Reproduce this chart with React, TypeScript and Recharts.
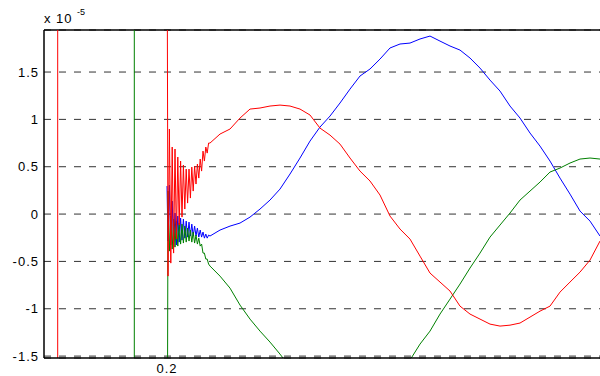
import React from 'react';
import { LineChart, Line, XAxis, YAxis, CartesianGrid, ReferenceLine } from 'recharts';

// time samples (s): fast start-up burst, then the slow part
const transientT = [
  0.2, 0.2001, 0.20024, 0.20038, 0.20052, 0.20066, 0.2008, 0.20094, 0.20108, 0.20122, 0.20136,
  0.2015, 0.20164, 0.20178, 0.20192, 0.20206, 0.2022, 0.20234, 0.20248, 0.20262, 0.20276,
  0.2029, 0.20304, 0.20318, 0.20332, 0.20346, 0.2036, 0.20374, 0.20388, 0.20402, 0.20416,
];
const smoothT = [
  0.2043, 0.2053, 0.2063, 0.2073, 0.2083, 0.2093, 0.2103, 0.2113, 0.2123, 0.2133,
  0.2143, 0.2153, 0.2163, 0.2173, 0.2183, 0.2193, 0.2203, 0.2213, 0.2223, 0.2233,
  0.2243, 0.2253, 0.2263, 0.2273, 0.2283, 0.2293, 0.2303, 0.2313, 0.2323, 0.2333,
  0.2343, 0.2353, 0.2363, 0.2373, 0.2383, 0.2393, 0.2403, 0.2413, 0.2423, 0.2433,
];

// values in units of 1e-5
const blueTransient = [
  0.296, -0.285, 0.306, -0.327, 0.137, -0.349, 0.011, -0.327, -0.021, -0.296, -0.042,
  -0.275, -0.053, -0.254, -0.074, -0.243, -0.085, -0.232, -0.106, -0.232, -0.127,
  -0.232, -0.148, -0.243, -0.169, -0.243, -0.19, -0.254, -0.211, -0.254, -0.222,
];
const blueSmooth = [
  -0.232, -0.169, -0.127, -0.095, -0.032, 0.053, 0.148, 0.264, 0.423, 0.592,
  0.771, 0.919, 1.035, 1.173, 1.32, 1.458, 1.532, 1.637, 1.754, 1.796,
  1.806, 1.849, 1.88, 1.827, 1.775, 1.732, 1.648, 1.542, 1.415, 1.299,
  1.141, 1.014, 0.856, 0.718, 0.56, 0.38, 0.211, 0.032, -0.074, -0.232,
];

const redTransient = [
  3.5, -0.655, 0.898, -0.518, 0.708, -0.412, 0.687, -0.264, 0.602, -0.116, 0.56,
  -0.032, 0.518, 0.053, 0.475, 0.116, 0.475, 0.169, 0.496, 0.243, 0.507,
  0.317, 0.528, 0.38, 0.581, 0.454, 0.665, 0.56, 0.708, 0.644, 0.75,
];
const redSmooth = [
  0.75, 0.845, 0.898, 1.014, 1.109, 1.12, 1.141, 1.151, 1.141, 1.109,
  1.046, 0.908, 0.834, 0.739, 0.592, 0.454, 0.349, 0.201, -0.021, -0.158,
  -0.264, -0.444, -0.623, -0.718, -0.813, -0.972, -1.056, -1.109, -1.162, -1.183,
  -1.173, -1.151, -1.088, -1.025, -0.972, -0.824, -0.718, -0.613, -0.486, -0.285,
];

const greenTransient = [
  -4, 0.243, -0.391, -0.021, -0.37, -0.053, -0.349, -0.074, -0.338, -0.095, -0.317,
  -0.106, -0.306, -0.127, -0.296, -0.148, -0.285, -0.169, -0.296, -0.19, -0.306,
  -0.222, -0.317, -0.254, -0.338, -0.317, -0.412, -0.412, -0.475, -0.475, -0.528,
];
const greenSmooth = [
  -0.549, -0.655, -0.782, -0.961, -1.109, -1.236, -1.352, -1.479, -1.616, -1.732,
  -1.838, -1.923, -1.986, -2.028, -2.039, -2.018, -1.965, -1.88, -1.775, -1.658,
  -1.542, -1.373, -1.236, -1.056, -0.898, -0.739, -0.57, -0.412, -0.243, -0.116,
  0.011, 0.148, 0.243, 0.338, 0.444, 0.486, 0.539, 0.581, 0.592, 0.581,
];

const yTicks = [-1.5, -1, -0.5, 0, 0.5, 1, 1.5];
const xTicks = [0.2];
const markerTimes = [0.18907, 0.19673]; // red, green
const xDomain = [0.1877, 0.2433];
const yDomain = [-1.52, 1.944];

const toSeries = (vals: number[], rest: number[]) => [
  ...transientT.map((t, i) => ({ t, v: vals[i] })),
  ...smoothT.map((t, i) => ({ t, v: rest[i] })),
];

const blueData = toSeries(blueTransient, blueSmooth);
const redData = toSeries(redTransient, redSmooth);
const greenData = toSeries(greenTransient, greenSmooth);

const font = '"Liberation Sans", Arial, sans-serif';
const tickStyle = { fill: '#000', fontSize: 13, fontFamily: font, letterSpacing: 1 };

export default function App() {
  return (
    <div style={{ position: 'absolute', left: 0, top: 0, width: 600, height: 376, background: '#fff' }}>
      <LineChart width={600} height={376} margin={{ top: 30, right: 0, bottom: 0, left: 0 }}>
        <CartesianGrid horizontal vertical={false} stroke="#333" strokeDasharray="7 8" />
        <XAxis
          dataKey="t"
          type="number"
          domain={xDomain}
          allowDataOverflow
          ticks={xTicks}
          tickFormatter={(v: number) => v.toFixed(1)}
          height={18}
          tickSize={3}
          tickMargin={3}
          tickLine={false}
          axisLine={{ stroke: '#000', strokeWidth: 1.5 }}
          tick={tickStyle}
        />
        <YAxis
          type="number"
          domain={yDomain}
          allowDataOverflow
          ticks={yTicks}
          width={44}
          tickSize={3}
          tickMargin={2}
          tickLine={false}
          axisLine={{ stroke: '#000', strokeWidth: 1.5 }}
          tick={tickStyle}
        />
        <ReferenceLine y={yDomain[1]} stroke="#000" strokeWidth={1.5} />
        <ReferenceLine x={markerTimes[0]} stroke="#ff0000" strokeWidth={1} />
        <ReferenceLine x={markerTimes[1]} stroke="#008000" strokeWidth={1} />
        <Line data={blueData} dataKey="v" stroke="#0000ff" strokeWidth={1} dot={false} isAnimationActive={false} />
        <Line data={greenData} dataKey="v" stroke="#008000" strokeWidth={1} dot={false} isAnimationActive={false} />
        <Line data={redData} dataKey="v" stroke="#ff0000" strokeWidth={1} dot={false} isAnimationActive={false} />
      </LineChart>
      <svg width={120} height={28} style={{ position: 'absolute', left: 0, top: 0 }}>
        <text x={44} y={23} fontFamily={font} fontSize={13} fill="#000" letterSpacing={1}>
          x 10
        </text>
        <text x={77} y={15} fontFamily={font} fontSize={9} fill="#000">
          -5
        </text>
      </svg>
    </div>
  );
}
